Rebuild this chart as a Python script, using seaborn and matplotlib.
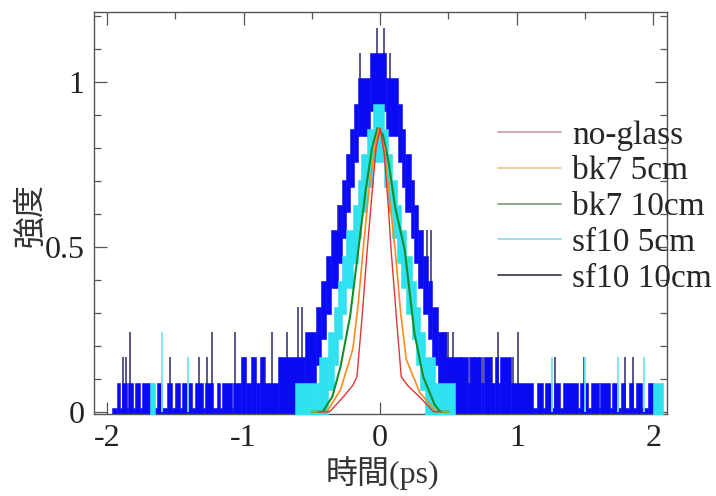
import numpy as np
import pandas as pd
import seaborn as sns
import matplotlib.pyplot as plt
from matplotlib.lines import Line2D
from matplotlib.ticker import MultipleLocator, FormatStrFormatter

# traces are counts, normalised so that 13 counts = 1
UNIT = 1 / 13

# sf10 10cm : noisy trace, read as bands between count levels (segment edges, low, high)
blue_x = [-1.96, -1.927, -1.905, -1.89, -1.853, -1.846, -1.81, -1.795, -1.758, -1.744,
          -1.685, -1.634, -1.597, -1.56, -1.524, -1.502, -1.465, -1.45, -1.414, -1.407,
          -1.377, -1.355, -1.297, -1.282, -1.223, -1.194, -1.172, -1.158, -1.084, -1.077,
          -1.018, -0.982, -0.945, -0.908, -0.879, -0.85, -0.747,
          -0.55, -0.47, -0.43, -0.40, -0.36, -0.31, -0.28, -0.25, -0.22, -0.19, -0.165, -0.075,
          0.045, 0.13, 0.16, 0.185, 0.225, 0.25, 0.28, 0.31, 0.35, 0.38, 0.42, 0.48,
          0.64, 0.66, 0.74, 0.76, 0.81, 0.84, 0.86, 0.88, 0.96, 1.12, 1.15, 1.19, 1.21,
          1.26, 1.27, 1.32, 1.34, 1.45, 1.465, 1.52, 1.54, 1.60, 1.61, 1.685, 1.70, 1.74,
          1.76, 1.795, 1.82, 1.85, 1.87, 1.92, 1.96, 2.00]
blue_lo = [0] * 37 + [1, 2, 3, 4, 5, 6, 7, 8, 9, 10, 11, 12,
                      11, 10, 9, 8, 7, 6, 5, 4, 3, 2, 1, 0] + [0] * 34
blue_hi = [0, 1, 0, 1, 0, 1, 0, 1, 0, 1, 0, 1, 0, 1, 0, 1, 0, 1, 0, 1,
           0, 1, 0, 1, 0, 1, 0, 1, 0, 1, 2, 1, 2, 1, 2, 1, 2,
           3, 4, 5, 6, 7, 8, 9, 10, 11, 12, 13, 14,
           13, 12, 11, 10, 9, 8, 7, 6, 5, 4, 3, 2,
           1, 2, 1, 2, 1, 2, 1, 2, 1, 0, 1, 0, 1, 0, 1, 0, 1, 0, 1, 0, 1, 0, 1, 0, 1, 0,
           1, 0, 1, 0, 1, 0, 1]
# single-sample spikes: position, local level, peak level
blue_spike_x = [-1.88, -1.86, -1.83, -1.54, -1.33, -1.27, -1.23, -1.06, -0.99, -0.93,
                -0.86, -0.84, -0.79, -0.73, -0.68, -0.60, -0.57, -0.31, -0.15,
                -0.02, 0.03, 0.07, 0.34, 0.37, 0.46, 0.48, 0.50, 0.53, 0.59, 0.66,
                0.69, 0.72, 0.75, 0.82, 0.86, 0.97, 1.01, 1.28, 1.49, 1.79, 1.85]
blue_spike_from = [0, 0, 0, 0, 0, 0, 0, 0, 0, 0,
                   0, 0, 0, 0, 0, 1, 1, 6, 12,
                   13, 13, 12, 5, 5, 1, 1, 1, 1, 0, 0,
                   0, 0, 0, 0, 0, 0, 0, 0, 0, 0, 0]
blue_spike_n = [2, 2, 3, 2, 2, 2, 3, 3, 2, 2,
                2, 2, 3, 2, 3, 4, 4, 8, 14,
                15, 15, 14, 7, 7, 3, 3, 3, 3, 2, 2,
                2, 2, 2, 2, 3, 2, 3, 2, 2, 2, 2]

# sf10 5cm : same reading, None = nothing visible
cyan_x = [-1.685, -1.648, -0.62, -0.45, -0.38, -0.34, -0.31, -0.28, -0.25, -0.20, -0.165,
          -0.14, -0.10, -0.05, 0.03, 0.06, 0.09, 0.12, 0.15, 0.19, 0.23, 0.26, 0.29,
          0.33, 0.40, 0.55, 2.00, 2.07]
cyan_lo = [0, None, 0, 0, 1, 2, 3, 4, 5, 6, 7, 8, 9, 10, 9, 8, 7, 6, 5, 4, 3, 2, 1,
           0, 0, None, 0]
cyan_hi = [1, None, 1, 2, 3, 4, 5, 6, 7, 8, 9, 10, 11, 12, 11, 10, 9, 8, 7, 6, 5, 4, 3,
           2, 1, None, 1]
cyan_spike_x = [-1.60, -1.41, 1.26, 1.50, 1.74, 1.93]
cyan_spike_n = [3, 2, 2, 2, 2, 2]

# smoother traces
green_x = [-0.5, -0.42, -0.35, -0.29, -0.22, -0.16, -0.11, -0.06, -0.02, 0.02, 0.06,
           0.11, 0.18, 0.25, 0.315, 0.4, 0.44, 0.5]
green_y = [0.0, 0.0, 0.046, 0.137, 0.29, 0.49, 0.66, 0.8, 0.86, 0.84, 0.76,
           0.62, 0.49, 0.24, 0.106, 0.02, 0.0, 0.0]
orange_x = [-0.5, -0.39, -0.29, -0.2, -0.16, -0.125, -0.08, -0.04, -0.01, 0.03, 0.07,
            0.11, 0.15, 0.19, 0.29, 0.41, 0.5]
orange_y = [0.0, 0.0, 0.067, 0.19, 0.33, 0.49, 0.68, 0.8, 0.86, 0.8, 0.64,
            0.49, 0.3, 0.16, 0.058, 0.0, 0.0]
red_x = [-0.45, -0.37, -0.28, -0.2, -0.17, -0.13, -0.095, -0.06, -0.03, 0.0, 0.03,
         0.06, 0.08, 0.12, 0.154, 0.2, 0.3, 0.39, 0.45]
red_y = [0.0, 0.0, 0.04, 0.08, 0.106, 0.3, 0.49, 0.66, 0.8, 0.86, 0.78,
         0.62, 0.49, 0.28, 0.106, 0.08, 0.04, 0.0, 0.0]

labels = ['no-glass', 'bk7 5cm', 'bk7 10cm', 'sf10 5cm', 'sf10 10cm']
legend_colors = ['#c89aa4', '#e2c98e', '#6f9a7c', '#86d8e6', '#30304c']

sns.set_theme(style='ticks')
plt.rcParams['font.family'] = ['Liberation Serif', 'Noto Sans CJK JP']
plt.rcParams['axes.unicode_minus'] = False

fig = plt.figure(figsize=(7.16, 4.96), dpi=100)
ax = fig.add_axes([0.1313, 0.1653, 0.8003, 0.8105])

PAD = 0.011  # half width of the drawn trace


def draw_bands(edges, lo, hi, color, z):
    for x0, x1, a, b in zip(edges[:-1], edges[1:], lo, hi):
        if a is None:
            continue
        ax.fill_between([x0, x1], a * UNIT - PAD, b * UNIT + PAD,
                        color=color, lw=0.4, edgecolor=color, zorder=z)


ax.vlines(blue_spike_x, np.array(blue_spike_from) * UNIT,
          np.array(blue_spike_n) * UNIT + PAD,
          colors='#4a4a82', lw=1.3, zorder=1.9)
draw_bands(blue_x, blue_lo, blue_hi, '#0a0af5', 2)
draw_bands(cyan_x, cyan_lo, cyan_hi, '#2ee2f0', 3)
ax.vlines(cyan_spike_x, 0, np.array(cyan_spike_n) * UNIT + PAD,
          colors='#70e6f0', lw=1.3, zorder=3)

sns.lineplot(x=green_x, y=green_y, color='#178c2a', lw=1.5, sort=False,
             estimator=None, ax=ax, zorder=4)
sns.lineplot(x=orange_x, y=orange_y, color='#ff8a1a', lw=1.2, sort=False,
             estimator=None, ax=ax, zorder=5)
sns.lineplot(x=red_x, y=red_y, color='#e03535', lw=1.0, sort=False,
             estimator=None, ax=ax, zorder=6)

ax.set_xlim(-2.095, 2.1)
ax.set_ylim(-0.007, 1.212)
ax.xaxis.set_major_locator(MultipleLocator(1))
ax.xaxis.set_minor_locator(MultipleLocator(0.5))
ax.yaxis.set_major_locator(MultipleLocator(0.5))
ax.yaxis.set_minor_locator(MultipleLocator(0.1))
ax.yaxis.set_major_formatter(FormatStrFormatter('%g'))
ax.xaxis.set_major_formatter(FormatStrFormatter('%g'))
ax.tick_params(which='both', direction='in', top=True, right=True,
               color='#555555', width=0.9, labelsize=23, labelcolor='#222222')
ax.tick_params(which='major', length=9, pad=7)
ax.tick_params(which='minor', length=5)
for s in ax.spines.values():
    s.set_color('#555555')
    s.set_linewidth(1.0)

ax.set_xlabel('時間(ps)', fontsize=23, color='#333333')
ax.xaxis.set_label_coords(0.503, -0.105)
ax.set_ylabel('強度', fontsize=23, color='#333333')
ax.yaxis.set_label_coords(-0.11, 0.495)
ax.yaxis.label.set_va('center')

handles = [Line2D([], [], color=c, lw=1.2) for c in legend_colors]
ax.legend(handles, labels, loc='upper left', bbox_to_anchor=(0.6955, 0.758),
          bbox_transform=fig.transFigure, frameon=False, fontsize=24,
          handlelength=1.9, handletextpad=0.33, labelspacing=0.16,
          borderpad=0, borderaxespad=0)

fig.savefig('out.png', dpi=100)
